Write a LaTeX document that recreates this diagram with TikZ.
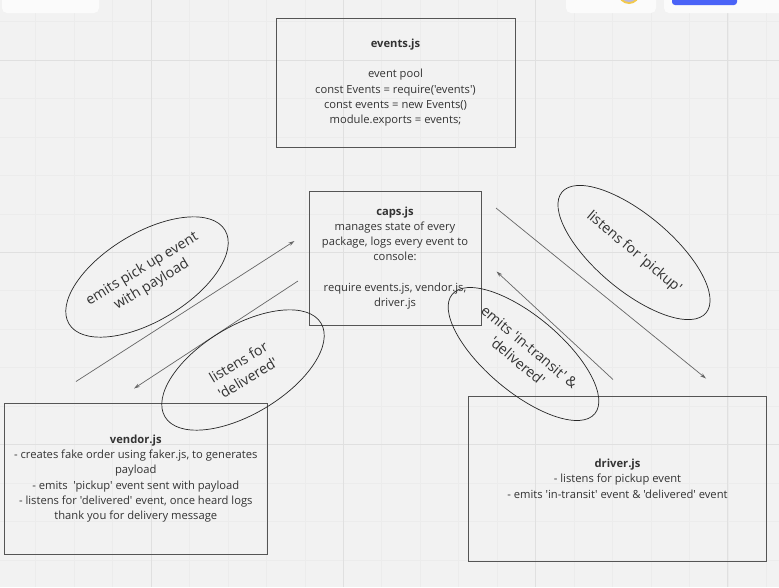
\documentclass[tikz,border=0pt]{standalone}
\usepackage{fontspec}
\setmainfont{Open Sans}[Ligatures=TeXOff]
\usetikzlibrary{shapes.geometric,arrows.meta}
\definecolor{bg}{HTML}{F2F2F2}
\definecolor{gridminor}{HTML}{ECECEC}
\definecolor{gridmajor}{HTML}{E0E0E0}
\definecolor{txt}{HTML}{333333}
\definecolor{boxline}{HTML}{555555}
\definecolor{arrowline}{HTML}{666666}
\definecolor{uiblue}{HTML}{4A63F7}
\definecolor{uiyellow}{HTML}{F2C94C}
\tikzset{
  minorgrid/.style={gridminor, line width=0.6pt},
  majorgrid/.style={gridmajor, line width=1pt},
  jsbox/.style={draw=boxline, line width=1pt, rectangle, align=center, inner sep=0pt,
     text=txt, font=\fontsize{11.2}{15.3}\selectfont},
  bubble/.style={draw=black!85, line width=0.7pt, ellipse, inner sep=0pt, align=center,
     text=txt, font=\fontsize{14.2}{18.5}\selectfont},
  flow/.style={draw=arrowline, line width=0.7pt, -{Stealth[length=6pt,width=3.6pt]}},
  uipanel/.style={fill=white!70!bg, rounded corners=5pt},
}
\begin{document}
\begin{tikzpicture}[x=1pt,y=-1pt]
\useasboundingbox (0,0) rectangle (779,587);
\fill[bg] (0,0) rectangle (779,587);
% grid
\foreach \i in {-4,...,16} {
  \draw[minorgrid] ({151+38.46*\i},0) -- ({151+38.46*\i},587);
  \draw[minorgrid] (0,{60+38.46*\i}) -- (779,{60+38.46*\i});
}
\foreach \i in {0,...,3} \draw[majorgrid] ({151+192.3*\i},0) -- ({151+192.3*\i},587);
\foreach \i in {0,...,2} \draw[majorgrid] (0,{60+192.3*\i}) -- (779,{60+192.3*\i});
% top ui bits
\fill[uipanel] (2,-10) rectangle (99,13);
\fill[uipanel] (566,-10) rectangle (656,13);
\fill[uipanel] (664,-10) rectangle (790,13);
\fill[uiyellow] (629,-7) circle (11);
\fill[gray!60!blue!40] (629,-7) circle (9);
\fill[uiblue, rounded corners=3pt] (672,-10) rectangle (737,5);

% boxes
\node[jsbox, minimum width=239pt, minimum height=129pt] (events) at (395.5,82.7)
  {\textbf{events.js}\\[15.3pt] event pool\\ const Events = require('events')\\ const events = new Events()\\ module.exports = events;};
\node[jsbox, minimum width=172pt, minimum height=134pt] (caps) at (395,258)
  {\textbf{caps.js}\\ manages state of every\\ package, logs every event to\\ console:\\[15.3pt] require events.js, vendor.js,\\ driver.js};
\node[jsbox, minimum width=262.5pt, minimum height=151pt] (vendor) at (135.8,478.5)
  {\textbf{vendor.js}\\ - creates fake order using faker.js, to generates\\ payload\\ - emits\ \ 'pickup' event sent with payload\\ - listens for 'delivered' event, once heard logs\\ thank you for delivery message};
\node[jsbox, minimum width=298pt, minimum height=165pt] (driver) at (617.5,478.5)
  {\textbf{driver.js}\\ - listens for pickup event\\ - emits 'in-transit' event \& 'delivered' event};

% connectors
\coordinate (a1s) at (76,381.5);  \coordinate (a1e) at (294.5,241);
\coordinate (a2s) at (298,281);   \coordinate (a2e) at (134,388.5);
\coordinate (a3s) at (496,208);   \coordinate (a3e) at (706,378.5);
\coordinate (a4s) at (613,379.5); \coordinate (a4e) at (496.5,271.5);
\draw[flow] (a1s) -- (a1e);
\draw[flow] (a2s) -- (a2e);
\draw[flow] (a3s) -- (a3e);
\draw[flow] (a4s) -- (a4e);

% bubbles
\node[bubble, minimum width=182pt, minimum height=88pt, rotate=31] (emitpick) at (147,277)
  {emits pick up event\\ with payload};
\node[bubble, minimum width=182pt, minimum height=88pt, rotate=31] (listdel) at (243,370)
  {listens for\\ 'delivered'};
\node[bubble, minimum width=188pt, minimum height=76pt, rotate=-40] (listpick) at (634,252.5)
  {listens for 'pickup'};
\node[bubble, minimum width=186pt, minimum height=76pt, rotate=-40] (emittrans) at (523.5,354)
  {emits 'in-transit' \&\\ 'delivered'};
\end{tikzpicture}
\end{document}
